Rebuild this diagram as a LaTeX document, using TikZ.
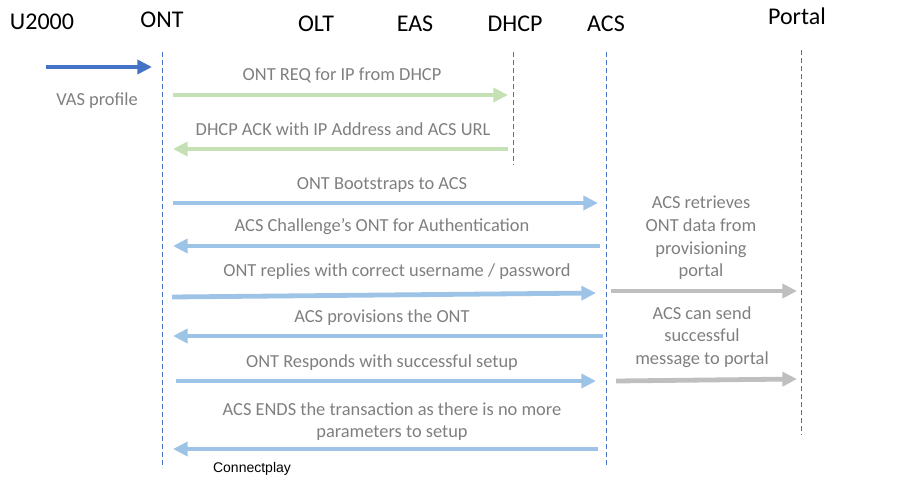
\documentclass[tikz,border=0pt]{standalone}
\usepackage{fontspec}
\setmainfont{Carlito}
\newfontfamily\arialfont{Liberation Sans}
\usetikzlibrary{arrows.meta, positioning}

\definecolor{lifeblue}{RGB}{68,114,196}
\definecolor{msggreen}{RGB}{197,224,180}
\definecolor{msgblue}{RGB}{157,195,230}
\definecolor{msggray}{RGB}{191,191,191}
\definecolor{txtgray}{RGB}{127,127,127}

\tikzset{
  hdr/.style={font=\fontsize{18}{20}\selectfont, text=black, inner sep=0pt},
  lbl/.style={font=\fontsize{13.8}{17}\selectfont, text=txtgray, align=center, inner sep=0pt},
  lifeline/.style={lifeblue, dash pattern=on 3.5pt off 2.5pt, line width=0.65pt},
  msg/.style={line width=3.6pt, -{Triangle[length=11pt,width=10.5pt]}},
  vasmsg/.style={msg, lifeblue},
  greenmsg/.style={msg, msggreen},
  bluemsg/.style={msg, msgblue},
  graymsg/.style={msg, msggray}
}

\begin{document}
\begin{tikzpicture}[x=0.75pt, y=-0.75pt]
  \useasboundingbox (0,0) rectangle (920,478);

  % --- Participants
  \node[hdr] (u2000)  at (42,22)  {U2000};
  \node[hdr] (ont)    at (162,20) {ONT};
  \node[hdr] (olt)    at (316,24) {OLT};
  \node[hdr] (eas)    at (415,24) {EAS};
  \node[hdr] (dhcp)   at (515,24) {DHCP};
  \node[hdr] (acs)    at (606,24) {ACS};
  \node[hdr] (portal) at (797,16) {Portal};

  % --- Lifelines
  \coordinate (ont-top)    at (162,52);
  \coordinate (ont-bot)    at (162,468);
  \coordinate (dhcp-top)   at (513,52);
  \coordinate (dhcp-bot)   at (513,165);
  \coordinate (acs-top)    at (606,52);
  \coordinate (acs-bot)    at (606,465);
  \coordinate (portal-top) at (801,50);
  \coordinate (portal-bot) at (801,435);
  \draw[lifeline] (ont-top) -- (ont-bot);
  \draw[lifeline] (dhcp-top) -- (dhcp-bot);
  \draw[lifeline] (acs-top) -- (acs-bot);
  \draw[lifeline] (portal-top) -- (portal-bot);

  % --- U2000 pushes VAS profile
  \coordinate (vas-s) at (46,67);
  \coordinate (vas-e) at (152,67);
  \draw[vasmsg] (vas-s) -- (vas-e);
  \node[lbl] (vas-lbl) at (97,101) {VAS profile};

  % --- DHCP exchange (green)
  \coordinate (req-s) at (173,95);
  \coordinate (req-e) at (508,95);
  \draw[greenmsg] (req-s) -- (req-e);
  \node[lbl] (req-lbl) at (342,75) {ONT REQ for IP from DHCP};

  \coordinate (ack-s) at (508,149);
  \coordinate (ack-e) at (173,149);
  \draw[greenmsg] (ack-s) -- (ack-e);
  \node[lbl] (ack-lbl) at (343,129) {DHCP ACK with IP Address and ACS URL};

  % --- ACS exchange (blue)
  \coordinate (boot-s) at (173,203);
  \coordinate (boot-e) at (598,203);
  \draw[bluemsg] (boot-s) -- (boot-e);
  \node[lbl] (boot-lbl) at (382,185) {ONT Bootstraps to ACS};

  \coordinate (chal-s) at (600,246);
  \coordinate (chal-e) at (173,246);
  \draw[bluemsg] (chal-s) -- (chal-e);
  \node[lbl] (chal-lbl) at (382,227) {ACS Challenge’s ONT for Authentication};

  \coordinate (auth-s) at (172,297);
  \coordinate (auth-e) at (596,293);
  \draw[bluemsg] (auth-s) -- (auth-e);
  \node[lbl] (auth-lbl) at (397,272) {ONT replies with correct username / password};

  \coordinate (prov-s) at (603,336);
  \coordinate (prov-e) at (173,336);
  \draw[bluemsg] (prov-s) -- (prov-e);
  \node[lbl] (prov-lbl) at (382,318) {ACS provisions the ONT};

  \coordinate (resp-s) at (176,381);
  \coordinate (resp-e) at (596,381);
  \draw[bluemsg] (resp-s) -- (resp-e);
  \node[lbl] (resp-lbl) at (382,363) {ONT Responds with successful setup};

  \coordinate (end-s) at (598,449);
  \coordinate (end-e) at (173,449);
  \draw[bluemsg] (end-s) -- (end-e);
  \node[lbl] (end-lbl) at (392,421.5) {ACS ENDS the transaction as there is no more\\parameters to setup};

  % --- ACS to portal (gray)
  \coordinate (get-s) at (611,291);
  \coordinate (get-e) at (797,291);
  \draw[graymsg] (get-s) -- (get-e);
  \node[lbl] (get-lbl) at (701,238) {ACS retrieves\\ONT data from\\provisioning\\portal};

  \coordinate (send-s) at (616,381);
  \coordinate (send-e) at (797,379);
  \draw[graymsg] (send-s) -- (send-e);
  \node[lbl] (send-lbl) at (702,337) {ACS can send\\successful\\message to portal};

  % --- footer
  \node[font=\arialfont\fontsize{10.5}{12}\selectfont, inner sep=0pt] (brand) at (252,469) {Connectplay};
\end{tikzpicture}
\end{document}
